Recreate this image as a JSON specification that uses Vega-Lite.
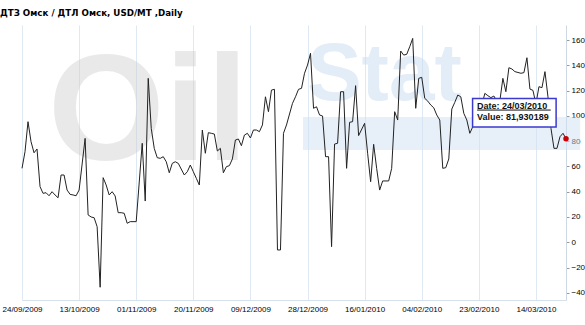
{
  "$schema": "https://vega.github.io/schema/vega-lite/v6.json",
  "autosize": "none",
  "width": 544,
  "height": 275,
  "padding": {"left": 22, "top": 25, "right": 19, "bottom": 25},
  "background": "white",
  "title": {"text": "ДТЗ  Омск / ДТЛ  Омск,  USD/MT ,Daily", "anchor": "start", "frame": "group", "dx": -22, "offset": 7, "font": "DejaVu Sans", "fontSize": 8.7, "fontWeight": "bold", "color": "#000000"},
  "config": {
    "view": {"stroke": null},
    "axis": {"labelFont": "Liberation Sans", "labelFontSize": 8, "labelColor": "#000000", "titleFont": "Liberation Sans"}
  },
  "datasets": {
    "series": [
      {"date": "2009-09-24", "value": 58.5},
      {"date": "2009-09-25", "value": 71.6},
      {"date": "2009-09-26", "value": 95.4},
      {"date": "2009-09-27", "value": 79.6},
      {"date": "2009-09-28", "value": 70.8},
      {"date": "2009-09-29", "value": 73.8},
      {"date": "2009-09-30", "value": 44},
      {"date": "2009-10-01", "value": 38.7},
      {"date": "2009-10-02", "value": 39.2},
      {"date": "2009-10-03", "value": 36.8},
      {"date": "2009-10-04", "value": 40},
      {"date": "2009-10-05", "value": 37.4},
      {"date": "2009-10-06", "value": 35.2},
      {"date": "2009-10-07", "value": 53.2},
      {"date": "2009-10-08", "value": 53.2},
      {"date": "2009-10-09", "value": 41.3},
      {"date": "2009-10-10", "value": 37.9},
      {"date": "2009-10-11", "value": 37.4},
      {"date": "2009-10-12", "value": 36.8},
      {"date": "2009-10-13", "value": 41.3},
      {"date": "2009-10-15", "value": 82.2},
      {"date": "2009-10-16", "value": 21.6},
      {"date": "2009-10-17", "value": 20},
      {"date": "2009-10-18", "value": 19.4},
      {"date": "2009-10-19", "value": 12.3},
      {"date": "2009-10-20", "value": -35.6},
      {"date": "2009-10-21", "value": 51.1},
      {"date": "2009-10-22", "value": 45.3},
      {"date": "2009-10-23", "value": 37.4},
      {"date": "2009-10-24", "value": 40},
      {"date": "2009-10-25", "value": 36.6},
      {"date": "2009-10-26", "value": 23.4},
      {"date": "2009-10-27", "value": 23.4},
      {"date": "2009-10-28", "value": 22.9},
      {"date": "2009-10-29", "value": 15},
      {"date": "2009-10-30", "value": 16.3},
      {"date": "2009-11-01", "value": 16.3},
      {"date": "2009-11-03", "value": 78.3},
      {"date": "2009-11-04", "value": 32.6},
      {"date": "2009-11-05", "value": 129.7},
      {"date": "2009-11-06", "value": 90.1},
      {"date": "2009-11-07", "value": 74.3},
      {"date": "2009-11-08", "value": 66.9},
      {"date": "2009-11-09", "value": 66.4},
      {"date": "2009-11-10", "value": 67.7},
      {"date": "2009-11-11", "value": 63.7},
      {"date": "2009-11-12", "value": 55},
      {"date": "2009-11-13", "value": 62.4},
      {"date": "2009-11-14", "value": 63.7},
      {"date": "2009-11-15", "value": 62.4},
      {"date": "2009-11-17", "value": 53.2},
      {"date": "2009-11-18", "value": 55.8},
      {"date": "2009-11-19", "value": 61.1},
      {"date": "2009-11-20", "value": 55.8},
      {"date": "2009-11-21", "value": 50.6},
      {"date": "2009-11-22", "value": 45.3},
      {"date": "2009-11-23", "value": 88.8},
      {"date": "2009-11-24", "value": 70.4},
      {"date": "2009-11-25", "value": 86.7},
      {"date": "2009-11-26", "value": 86.2},
      {"date": "2009-11-27", "value": 85.6},
      {"date": "2009-11-28", "value": 72.2},
      {"date": "2009-11-29", "value": 74.3},
      {"date": "2009-11-30", "value": 55},
      {"date": "2009-12-01", "value": 59.8},
      {"date": "2009-12-02", "value": 60.6},
      {"date": "2009-12-03", "value": 65.9},
      {"date": "2009-12-04", "value": 80.9},
      {"date": "2009-12-05", "value": 81.7},
      {"date": "2009-12-06", "value": 76.4},
      {"date": "2009-12-07", "value": 84.8},
      {"date": "2009-12-08", "value": 86.2},
      {"date": "2009-12-09", "value": 82.5},
      {"date": "2009-12-10", "value": 88.8},
      {"date": "2009-12-11", "value": 88.8},
      {"date": "2009-12-12", "value": 87.5},
      {"date": "2009-12-13", "value": 92.8},
      {"date": "2009-12-14", "value": 115.1},
      {"date": "2009-12-15", "value": 103.3},
      {"date": "2009-12-16", "value": 120.4},
      {"date": "2009-12-17", "value": 121},
      {"date": "2009-12-18", "value": -6.1},
      {"date": "2009-12-19", "value": -6.1},
      {"date": "2009-12-20", "value": 86.2},
      {"date": "2009-12-21", "value": 92.8},
      {"date": "2009-12-23", "value": 109.9},
      {"date": "2009-12-24", "value": 115.1},
      {"date": "2009-12-25", "value": 121},
      {"date": "2009-12-26", "value": 121.8},
      {"date": "2009-12-27", "value": 133.7},
      {"date": "2009-12-28", "value": 140.2},
      {"date": "2009-12-29", "value": 149.5},
      {"date": "2009-12-30", "value": 106},
      {"date": "2009-12-31", "value": 107.2},
      {"date": "2010-01-01", "value": 100.7},
      {"date": "2010-01-02", "value": 99.9},
      {"date": "2010-01-03", "value": 67.7},
      {"date": "2010-01-04", "value": 67.7},
      {"date": "2010-01-05", "value": -3.5},
      {"date": "2010-01-06", "value": 77.7},
      {"date": "2010-01-07", "value": 78.3},
      {"date": "2010-01-08", "value": 119.1},
      {"date": "2010-01-09", "value": 119.1},
      {"date": "2010-01-10", "value": 58.5},
      {"date": "2010-01-11", "value": 94.9},
      {"date": "2010-01-12", "value": 95.4},
      {"date": "2010-01-13", "value": 123.9},
      {"date": "2010-01-14", "value": 84.4},
      {"date": "2010-01-16", "value": 94.1},
      {"date": "2010-01-17", "value": 70.4},
      {"date": "2010-01-18", "value": 47.9},
      {"date": "2010-01-19", "value": 77.5},
      {"date": "2010-01-20", "value": 58.5},
      {"date": "2010-01-21", "value": 41.3},
      {"date": "2010-01-22", "value": 48.5},
      {"date": "2010-01-24", "value": 48.5},
      {"date": "2010-01-25", "value": 58.5},
      {"date": "2010-01-26", "value": 103.3},
      {"date": "2010-01-27", "value": 96.7},
      {"date": "2010-01-28", "value": 151.3},
      {"date": "2010-01-29", "value": 148.1},
      {"date": "2010-01-30", "value": 148.7},
      {"date": "2010-01-31", "value": 154.7},
      {"date": "2010-02-01", "value": 161.3},
      {"date": "2010-02-02", "value": 106},
      {"date": "2010-02-03", "value": 129.7},
      {"date": "2010-02-04", "value": 130.5},
      {"date": "2010-02-05", "value": 113.9},
      {"date": "2010-02-06", "value": 111.7},
      {"date": "2010-02-07", "value": 108.6},
      {"date": "2010-02-08", "value": 106.4},
      {"date": "2010-02-09", "value": 100.7},
      {"date": "2010-02-10", "value": 96.7},
      {"date": "2010-02-11", "value": 58.5},
      {"date": "2010-02-12", "value": 59},
      {"date": "2010-02-13", "value": 65.9},
      {"date": "2010-02-14", "value": 105.4},
      {"date": "2010-02-15", "value": 110.7},
      {"date": "2010-02-16", "value": 116.5},
      {"date": "2010-02-17", "value": 115.1},
      {"date": "2010-02-18", "value": 102},
      {"date": "2010-02-19", "value": 96.7},
      {"date": "2010-02-20", "value": 86.2},
      {"date": "2010-02-22", "value": 96.7},
      {"date": "2010-02-24", "value": 108.6},
      {"date": "2010-02-25", "value": 117.8},
      {"date": "2010-02-26", "value": 116},
      {"date": "2010-02-27", "value": 114.4},
      {"date": "2010-02-28", "value": 115.7},
      {"date": "2010-03-01", "value": 111.7},
      {"date": "2010-03-02", "value": 112},
      {"date": "2010-03-03", "value": 129.7},
      {"date": "2010-03-04", "value": 119.1},
      {"date": "2010-03-05", "value": 138.1},
      {"date": "2010-03-06", "value": 137.1},
      {"date": "2010-03-07", "value": 135},
      {"date": "2010-03-09", "value": 133.7},
      {"date": "2010-03-10", "value": 134.2},
      {"date": "2010-03-11", "value": 146},
      {"date": "2010-03-12", "value": 121.2},
      {"date": "2010-03-13", "value": 120.2},
      {"date": "2010-03-14", "value": 109.4},
      {"date": "2010-03-15", "value": 123.1},
      {"date": "2010-03-16", "value": 122.3},
      {"date": "2010-03-17", "value": 135},
      {"date": "2010-03-18", "value": 115.1},
      {"date": "2010-03-19", "value": 90.1},
      {"date": "2010-03-20", "value": 74.3},
      {"date": "2010-03-21", "value": 74.3},
      {"date": "2010-03-22", "value": 83.5},
      {"date": "2010-03-23", "value": 86.2},
      {"date": "2010-03-24", "value": 81.930189}
    ],
    "wmGray": [
      {"date": "2009-10-02T16:00:00Z", "value": 65.1, "text": "Oil"}
    ],
    "wmBlue": [
      {"date": "2009-12-27T19:00:00Z", "value": 112.6, "text": "Stat"}
    ],
    "wmBand": [
      {"date": "2009-12-26T12:00:00Z", "date2": "2010-03-28T17:00:00Z", "value": 73.0, "value2": 99.1}
    ],
    "box": [
      {"date": "2010-02-20T22:00:00Z", "date2": "2010-03-20T17:00:00Z", "value": 91.2, "value2": 113.7}
    ],
    "labels": [
      {"date": "2010-02-22T10:00:00Z", "value": 107.8, "text": "Date: 24/03/2010"},
      {"date": "2010-02-22T10:00:00Z", "value": 98.8, "text": "Value: 81,930189"}
    ],
    "underline": [
      {"date": "2010-02-22T10:00:00Z", "date2": "2010-03-18T22:00:00Z", "value": 104.6}
    ],
    "last": [
      {"date": "2010-03-24", "value": 81.930189}
    ]
  },
  "encoding": {
    "x": {
      "field": "date", "type": "temporal",
      "scale": {"type": "utc", "domain": [{"year": 2009, "month": 9, "date": 24, "utc": true}, {"year": 2010, "month": 3, "date": 24, "utc": true}], "nice": false},
      "axis": {
        "title": null,
        "values": [
          {"year": 2009, "month": 9, "date": 24, "utc": true},
          {"year": 2009, "month": 10, "date": 13, "utc": true},
          {"year": 2009, "month": 11, "date": 1, "utc": true},
          {"year": 2009, "month": 11, "date": 20, "utc": true},
          {"year": 2009, "month": 12, "date": 9, "utc": true},
          {"year": 2009, "month": 12, "date": 28, "utc": true},
          {"year": 2010, "month": 1, "date": 16, "utc": true},
          {"year": 2010, "month": 2, "date": 4, "utc": true},
          {"year": 2010, "month": 2, "date": 23, "utc": true},
          {"year": 2010, "month": 3, "date": 14, "utc": true}
        ],
        "labelExpr": "utcFormat(datum.value, '%d/%m/%Y')",
        "grid": true, "gridColor": "#dfe9f4", "gridWidth": 1,
        "ticks": false, "labelPadding": 5,
        "domain": true, "domainColor": "#d4e1ee",
        "labelOverlap": false, "labelFlush": false
      }
    },
    "y": {
      "field": "value", "type": "quantitative",
      "scale": {"domain": [-45.7, 171.9], "nice": false, "zero": false},
      "axis": {
        "title": null, "orient": "right",
        "values": [-40, -20, 0, 20, 40, 60, 80, 100, 120, 140, 160],
        "grid": false, "ticks": true, "tickSize": 3, "tickColor": "#999999",
        "domain": true, "domainColor": "#ccd8e4",
        "labelPadding": 2, "labelOverlap": false, "labelFlush": false
      }
    }
  },
  "layer": [
    {
      "data": {"name": "wmBand"},
      "mark": {"type": "rect", "fill": "#cfe0f2", "fillOpacity": 0.5, "strokeWidth": 0},
      "encoding": {
        "x2": {"field": "date2"},
        "y2": {"field": "value2"}
      }
    },
    {
      "data": {"name": "wmGray"},
      "mark": {"type": "text", "align": "left", "baseline": "alphabetic", "font": "Liberation Sans", "fontSize": 150, "fontWeight": "bold", "color": "#c8c8c8", "opacity": 0.38},
      "encoding": {
        "text": {"field": "text"}
      }
    },
    {
      "data": {"name": "wmBlue"},
      "mark": {"type": "text", "align": "left", "baseline": "alphabetic", "font": "Liberation Sans", "fontSize": 82, "fontWeight": "bold", "color": "#c9dcf1", "opacity": 0.5},
      "encoding": {
        "text": {"field": "text"}
      }
    },
    {
      "data": {"name": "series"},
      "mark": {"type": "line", "color": "#222222", "strokeWidth": 1, "interpolate": "linear"}
    },
    {
      "data": {"name": "last"},
      "mark": {"type": "point", "filled": true, "color": "#cc0000", "size": 30, "opacity": 1}
    },
    {
      "data": {"name": "box"},
      "mark": {"type": "rect", "fill": "white", "stroke": "#3a3ad0", "strokeWidth": 1.5},
      "encoding": {
        "x2": {"field": "date2"},
        "y2": {"field": "value2"}
      }
    },
    {
      "data": {"name": "labels"},
      "mark": {"type": "text", "align": "left", "baseline": "middle", "font": "Liberation Sans", "fontSize": 9, "fontWeight": "bold", "color": "#111111"},
      "encoding": {
        "text": {"field": "text"}
      }
    },
    {
      "data": {"name": "underline"},
      "mark": {"type": "rule", "color": "#111111", "strokeWidth": 1},
      "encoding": {
        "x2": {"field": "date2"}
      }
    }
  ]
}
